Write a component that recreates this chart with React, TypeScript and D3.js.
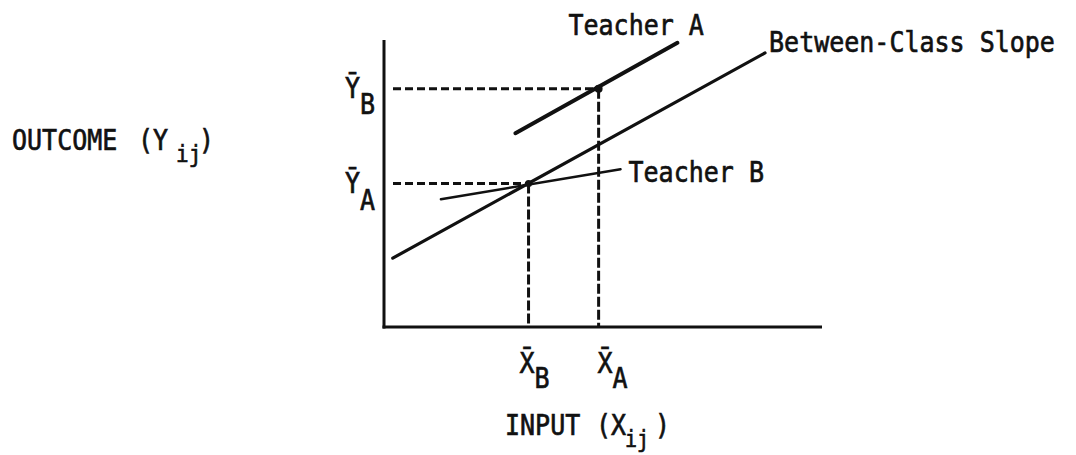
import React from "react";
import * as d3 from "d3";

// Schematic: within-class vs between-class regression slopes.
// Values are in abstract 0..100 units on both axes.

const meanX = { A: 49, B: 33 };
const meanY = { A: 50, B: 83 };

// regression segments [x0, x1], [y0, y1]
const betweenX = [2, 87];
const betweenY = [24, 95.5];
const teacherAX = [30, 67];
const teacherAY = [67.5, 99];
const teacherBX = [13, 54];
const teacherBY = [44.5, 55];

const lineLabels = ["Teacher A", "Teacher B", "Between-Class Slope"];

const W = 1076;
const H = 455;
const FONT = "'DejaVu Sans Mono', monospace";

function Txt({ x, y, size = 25, children }: { x: number; y: number; size?: number; children: React.ReactNode }) {
  return (
    <text
      transform={`translate(${x},${y}) scale(1,1.12)`}
      fontFamily={FONT}
      fontSize={size}
      fill="#111"
      stroke="#111"
      strokeWidth={0.6}
    >
      {children}
    </text>
  );
}

export default function App() {
  const x = d3.scaleLinear().domain([0, 100]).range([384, 822]);
  const y = d3.scaleLinear().domain([0, 100]).range([327, 40]);
  const seg = d3.line<[number, number]>().x((d) => x(d[0])).y((d) => y(d[1]));
  const pts = (xs: number[], ys: number[]) => xs.map((v, i) => [v, ys[i]] as [number, number]);

  const ink = "#111";
  const x0 = x(0);
  const y0 = y(0);

  return (
    <svg width={W} height={H} style={{ position: "absolute", left: 0, top: 0, background: "#fff" }}>
      {/* axes */}
      <line x1={x0} x2={x0} y1={y(100)} y2={y0 + 1.5} stroke={ink} strokeWidth={3} />
      <line x1={x0 - 1.5} x2={x(100)} y1={y0} y2={y0} stroke={ink} strokeWidth={3} />

      {/* dashed guides to the class means */}
      <g stroke={ink} strokeWidth={3} fill="none">
        <line x1={x0 + 9} x2={x(meanX.A)} y1={y(meanY.B)} y2={y(meanY.B)} strokeDasharray="8 4" />
        <line x1={x0 + 9} x2={x(meanX.B)} y1={y(meanY.A)} y2={y(meanY.A)} strokeDasharray="8 4" />
        <line x1={x(meanX.A)} x2={x(meanX.A)} y1={y(meanY.B)} y2={y0} strokeDasharray="10 3" />
        <line x1={x(meanX.B)} x2={x(meanX.B)} y1={y(meanY.A)} y2={y0} strokeDasharray="10 3" />
      </g>

      {/* regression lines */}
      <path d={seg(pts(betweenX, betweenY)) ?? ""} stroke={ink} strokeWidth={3.2} fill="none" strokeLinecap="round" />
      <path d={seg(pts(teacherAX, teacherAY)) ?? ""} stroke={ink} strokeWidth={4} fill="none" strokeLinecap="round" />
      <path d={seg(pts(teacherBX, teacherBY)) ?? ""} stroke={ink} strokeWidth={2.5} fill="none" strokeLinecap="round" />

      <circle cx={x(meanX.A)} cy={y(meanY.B)} r={4} fill={ink} />
      <circle cx={x(meanX.B)} cy={y(meanY.A)} r={3.5} fill={ink} />

      {/* line labels */}
      <Txt x={x(teacherAX[1]) - 109} y={35}>{lineLabels[0]}</Txt>
      <Txt x={x(teacherBX[1]) + 8} y={182}>{lineLabels[1]}</Txt>
      <Txt x={x(betweenX[1]) + 4} y={52}>{lineLabels[2]}</Txt>

      {/* y tick labels */}
      <Txt x={345} y={y(meanY.B) + 9}>Ȳ</Txt>
      <Txt x={360} y={y(meanY.B) + 25}>B</Txt>
      <Txt x={345} y={y(meanY.A) + 9}>Ȳ</Txt>
      <Txt x={360} y={y(meanY.A) + 26}>A</Txt>

      {/* x tick labels */}
      <Txt x={x(meanX.B) - 9} y={373}>X̄</Txt>
      <Txt x={x(meanX.B) + 6} y={388}>B</Txt>
      <Txt x={x(meanX.A) - 1} y={373}>X̄</Txt>
      <Txt x={x(meanX.A) + 14} y={388}>A</Txt>

      {/* axis titles */}
      <Txt x={12} y={150}>OUTCOME</Txt>
      <Txt x={138} y={150}>(Y</Txt>
      <Txt x={176} y={162} size={21}>ij</Txt>
      <Txt x={199} y={150}>)</Txt>

      <Txt x={505} y={435}>INPUT</Txt>
      <Txt x={596} y={435}>(X</Txt>
      <Txt x={625} y={447} size={20}>ij</Txt>
      <Txt x={655} y={435}>)</Txt>
    </svg>
  );
}
